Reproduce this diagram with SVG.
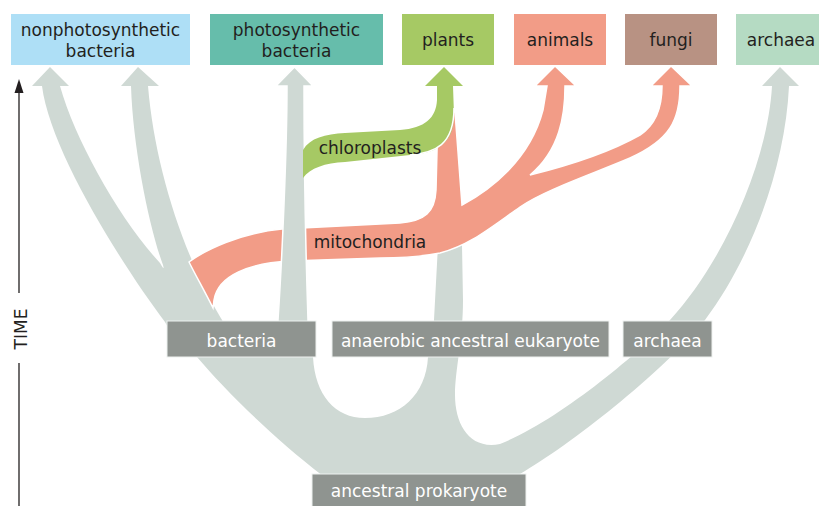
<svg xmlns="http://www.w3.org/2000/svg" width="819" height="506" viewBox="0 0 819 506">
<style>
text{font-family:"DejaVu Sans","Open Sans","Liberation Sans",sans-serif;font-size:17px;fill:#231f20;text-anchor:middle}
.gbox{fill:#8f9490;stroke:#eef1ef;stroke-width:1}
.gtxt{fill:#ffffff}
.tree{fill:#cfd9d4}
.mito{fill:#f29c87;stroke:#ffffff;stroke-width:1.5}
.chl{fill:#a6c964}
</style>
<rect width="819" height="506" fill="#ffffff"/>

<g id="time-axis">
<line x1="19" y1="92" x2="19" y2="293" stroke="#231f20" stroke-width="1.3"/>
<line x1="19" y1="363" x2="19" y2="506" stroke="#231f20" stroke-width="1.3"/>
<polygon points="19,79 14.5,93 23.5,93" fill="#231f20"/>
<text transform="translate(26.5,329) rotate(-90)">TIME</text>
</g>

<g id="connectors">
<path class="tree" d="M 165,322 C 120,262 50,150 42,86 L 32,86 L 50,67 L 69,86 L 60,86 C 75,140 120,220 160,263 Q 165,272 163,265 C 150,230 133,150 131,86 L 121,86 L 138,67 L 159,86 L 148,86 C 155,170 185,260 225,325 L 225,340 L 175,340 Z"/>
<path class="tree" d="M 175,338 L 197,357 C 225,390 270,435 323,476 L 323,482 L 520,482 L 520,474 C 570,445 660,375 705,320 C 750,260 785,170 789,86 L 799,86 L 780,67 L 762,86 L 772,86 C 768,160 725,260 670,320 C 640,352 560,420 500,444 C 470,450 455,425 455,395 C 455,370 463,340 463,300 L 462,245 L 438,245 L 434,320 C 432,340 430,350 428,357 C 426,395 400,418 365,418 C 335,418 315,395 313,357 L 313,338 Z"/>
<path id="mitochondria-band" class="mito" d="M 189,262 C 205,250 240,233 282,229 L 400,223 C 425,221 435,212 436,190 L 438,112 L 455,112 L 462,205 C 490,190 530,160 543,110 L 547,86 L 535,86 L 555,66 L 576,86 L 565,86 C 565,115 560,150 530,175 C 570,165 610,152 640,135 C 660,122 662,100 662,86 L 651,86 L 671,66 L 692,86 L 680,86 C 680,120 670,140 630,158 C 590,175 545,190 520,207 C 490,228 470,245 440,253 C 420,257 400,258 380,258 L 290,261 C 250,263 218,275 214,300 L 213,308 C 205,292 196,276 189,262 Z"/>
<path class="tree" stroke="#ffffff" stroke-width="1.5" d="M 278,340 L 278,320 C 282,260 287,150 287,86 L 276,86 L 294.5,67 L 313,86 L 304,86 C 304,150 306,260 308,320 L 308,340 Z"/>
<path id="chloroplast-band" class="chl" d="M 303,150 C 310,138 325,134 345,133 L 400,130 C 425,128 436,118 437,100 L 437,86 L 425,86 L 444,67 L 463,86 L 453,86 L 454,115 C 454,145 435,153 410,155 L 345,162 C 325,163 310,168 303,178 Z"/>
<path d="M 454,108 C 454,145 435,153 410,155" fill="none" stroke="#ffffff" stroke-width="1.5"/>
<text x="370" y="154">chloroplasts</text>
<text x="370" y="248">mitochondria</text>
</g>

<g id="node-nonphotosynthetic-bacteria">
<rect x="11" y="14" width="179" height="51" fill="#aedff6"/>
<text x="100.5" y="36">nonphotosynthetic</text>
<text x="100.5" y="57">bacteria</text>
</g>
<g id="node-photosynthetic-bacteria">
<rect x="210" y="14" width="173" height="51" fill="#66bdab"/>
<text x="296.5" y="36">photosynthetic</text>
<text x="296.5" y="57">bacteria</text>
</g>
<g id="node-plants">
<rect x="402" y="14" width="92" height="51" fill="#a6c964"/>
<text x="448" y="46">plants</text>
</g>
<g id="node-animals">
<rect x="514" y="14" width="92" height="51" fill="#f29c87"/>
<text x="560" y="46">animals</text>
</g>
<g id="node-fungi">
<rect x="625" y="14" width="92" height="51" fill="#b89283"/>
<text x="671" y="46">fungi</text>
</g>
<g id="node-archaea-top">
<rect x="736" y="14" width="90" height="51" fill="#b5dbc3"/>
<text x="781" y="46">archaea</text>
</g>

<g id="node-bacteria">
<rect class="gbox" x="167" y="321" width="149" height="36"/>
<text class="gtxt" x="241.5" y="347">bacteria</text>
</g>
<g id="node-anaerobic-ancestral-eukaryote">
<rect class="gbox" x="332" y="321" width="277" height="36"/>
<text class="gtxt" x="470.5" y="347">anaerobic ancestral eukaryote</text>
</g>
<g id="node-archaea">
<rect class="gbox" x="623" y="321" width="89" height="36"/>
<text class="gtxt" x="667.5" y="347">archaea</text>
</g>
<g id="node-ancestral-prokaryote">
<rect class="gbox" x="312" y="474" width="214" height="40"/>
<text class="gtxt" x="419" y="497">ancestral prokaryote</text>
</g>
</svg>
